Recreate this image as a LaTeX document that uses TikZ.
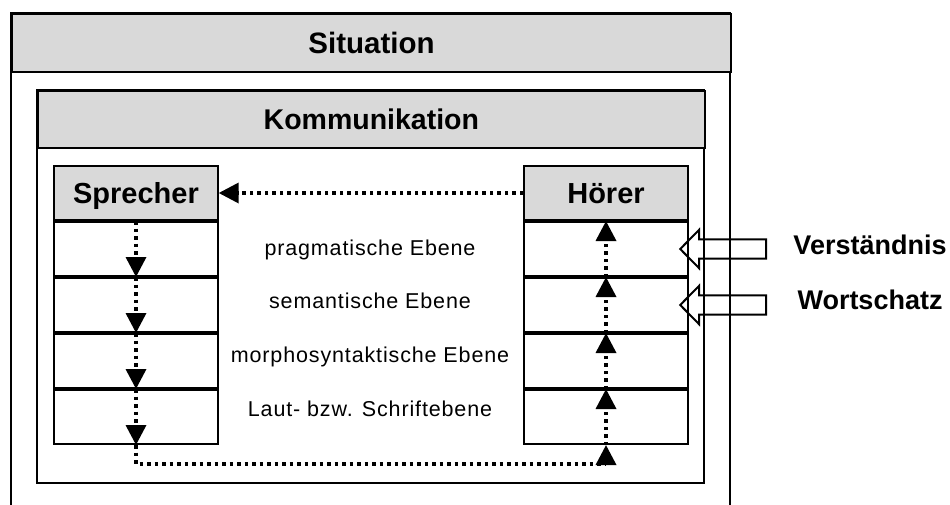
\documentclass[tikz,border=0pt]{standalone}
\usepackage{fontspec}
\setmainfont{Liberation Sans}
\newfontfamily\levelfamily[LetterSpace=4]{Liberation Sans}
\usetikzlibrary{arrows.meta}
\definecolor{hdrgray}{RGB}{217,217,217}

\begin{document}
\begin{tikzpicture}[x=1pt,y=-1pt,
  frame/.style={draw=black,line width=2.2pt},
  hdr/.style={draw=black,line width=2pt,fill=hdrgray,inner sep=0pt,
    text height=21.1pt,text depth=0pt,
    font=\fontsize{29.5}{34}\selectfont\bfseries},
  colhead/.style={hdr,minimum width=163.4pt,minimum height=54pt,anchor=north west,
    text height=20.8pt,font=\fontsize{29}{34}\selectfont\bfseries},
  layer/.style={draw=black,line width=2pt,minimum width=163.4pt,minimum height=54pt,
    inner sep=0pt,anchor=north},
  level/.style={inner sep=0pt,text height=15.4pt,text depth=0pt,
    font=\fontsize{21.5}{25}\levelfamily},
  sidelabel/.style={inner sep=0pt,text height=19.3pt,text depth=0pt,
    font=\fontsize{27}{32}\selectfont\bfseries},
  dotarrow/.style={line width=3.5pt,dash pattern=on 3.5pt off 4pt,
    -{Triangle[length=20pt,width=20pt]}},
  blockarrow/.style={draw=black,line width=2pt,line join=miter}
]
\clip (0,0) rectangle (950,504);

% outer frame: situation
\draw[frame] (11,530) |- (730,13.3) -- (730,530);
\node[hdr,minimum width=719pt,minimum height=57.4pt,anchor=north west]
  (situation) at (11,13.3) {Situation};

% communication frame
\draw[frame] (36.7,90) rectangle (704,483);
\node[hdr,minimum width=667.3pt,minimum height=56.7pt,anchor=north west,
  text height=20.4pt,font=\fontsize{28.5}{34}\selectfont\bfseries]
  (kommunikation) at (36.7,90) {Kommunikation};

% speaker column
\node[colhead] (sp0) at (53.3,165) {Sprecher};
\node[layer] (sp1) at (sp0.south) {};
\node[layer] (sp2) at (sp1.south) {};
\node[layer] (sp3) at (sp2.south) {};
\node[layer] (sp4) at (sp3.south) {};

% listener column
\node[colhead] (hr0) at (523.3,165) {Hörer};
\node[layer] (hr1) at (hr0.south) {};
\node[layer] (hr2) at (hr1.south) {};
\node[layer] (hr3) at (hr2.south) {};
\node[layer] (hr4) at (hr3.south) {};

% language levels
\node[level] (lv1) at (370,248) {pragmatische Ebene};
\node[level] (lv2) at (370,301) {semantische Ebene};
\node[level] (lv3) at (370,355) {morphosyntaktische Ebene};
\node[level] (lv4) at (370,408.5) {Laut- bzw. Schriftebene};

% flow through the levels
\foreach \i in {1,...,4} {
  \draw[dotarrow] (sp\i.north) -- (sp\i.south);
  \draw[dotarrow] (hr\i.south) -- (hr\i.north);
}
\coordinate (loopbase) at (370,464);
\draw[dotarrow] (sp4.south) |- (loopbase) -| (hr4.south);
\draw[dotarrow] (hr0.west) -- (sp0.east);

% external influences on the listener
\node[sidelabel] (vers) at (870,245) {Verständnis};
\node[sidelabel] (wort) at (870,300) {Wortschatz};
\path (hr1.east) ++(-8.5,0) coordinate (vtip);
\path (hr2.east) ++(-8.5,0) coordinate (wtip);
\foreach \t in {vtip,wtip} {
  \draw[blockarrow] (\t) -- ++(19,-19.3) -- ++(0,9.6) -- ++(67,0) -- ++(0,19.4)
    -- ++(-67,0) -- ++(0,9.6) -- cycle;
}
\end{tikzpicture}
\end{document}
